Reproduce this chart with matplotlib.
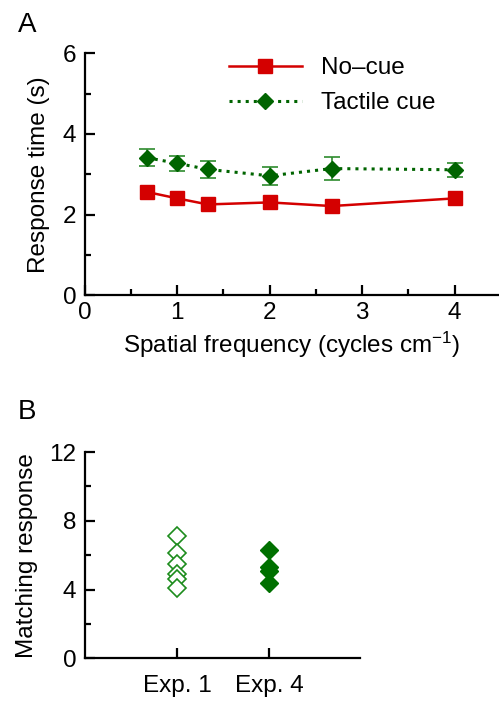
import matplotlib.pyplot as plt
from matplotlib.ticker import MultipleLocator

plt.rcParams['font.family'] = ['Liberation Sans', 'DejaVu Sans']
plt.rcParams['mathtext.default'] = 'regular'

# panel A data
freq = [0.67, 1.0, 1.33, 2.0, 2.67, 4.0]
nocue = [2.56, 2.40, 2.25, 2.30, 2.21, 2.40]
tactile = [3.41, 3.27, 3.12, 2.96, 3.14, 3.11]
tactile_err = [0.21, 0.19, 0.21, 0.22, 0.29, 0.17]

# panel B data
exp_labels = ['Exp. 1', 'Exp. 4']
exp1 = [7.1, 6.1, 5.5, 4.9, 4.6, 4.1]
exp4 = [6.3, 5.3, 5.1, 4.4]

red = '#d40000'
dgreen = '#006400'
fs = 17.5


def style_axes(ax):
    for s in ['top', 'right']:
        ax.spines[s].set_visible(False)
    for s in ['left', 'bottom']:
        ax.spines[s].set_linewidth(1.6)
    ax.tick_params(which='both', direction='in', width=1.6, labelsize=fs)
    ax.tick_params(which='major', length=7.5)
    ax.tick_params(which='minor', length=4.5)


fig = plt.figure(figsize=(4.99, 7.01), dpi=100)

# ---- panel A
ax1 = fig.add_axes([0.170, 0.579, 0.828, 0.345])
ax1.plot(freq, nocue, '-s', color=red, lw=1.8, ms=9.5, label='No\u2013cue')
ax1.errorbar(freq, tactile, yerr=tactile_err, fmt='none',
             ecolor='#2e8b2e', elinewidth=1.2, capsize=6, capthick=1.2)
ax1.plot(freq, tactile, 'D', ls=':', color=dgreen, lw=2.2, ms=8.5,
         label='Tactile cue')
ax1.set_xlim(0, 4.47)
ax1.set_ylim(0, 6)
ax1.xaxis.set_major_locator(MultipleLocator(1))
ax1.xaxis.set_minor_locator(MultipleLocator(0.5))
ax1.yaxis.set_major_locator(MultipleLocator(2))
ax1.yaxis.set_minor_locator(MultipleLocator(1))
style_axes(ax1)
ax1.tick_params(axis='y', pad=6)
ax1.tick_params(axis='x', pad=5)
ax1.set_xlabel('Spatial frequency (cycles cm$^{-1}$)', fontsize=fs, labelpad=4)
ax1.set_ylabel('Response time (s)', fontsize=fs, labelpad=9)
ax1.legend(loc='upper left', bbox_to_anchor=(0.295, 1.075), frameon=False,
           fontsize=fs, handlelength=3.0, handletextpad=0.8, labelspacing=0.55)

# ---- panel B
ax2 = fig.add_axes([0.170, 0.061, 0.551, 0.294])
ax2.plot([1] * len(exp1), exp1, 'D', ls='none', ms=9, mfc='white',
         mec='#1c8c1c', mew=1.2)
ax2.plot([2] * len(exp4), exp4, 'D', ls='none', ms=9, color='#007000')
ax2.set_xlim(0, 2.98)
ax2.set_ylim(0, 12)
ax2.set_xticks([1, 2])
ax2.set_xticklabels(exp_labels)
ax2.yaxis.set_major_locator(MultipleLocator(4))
ax2.yaxis.set_minor_locator(MultipleLocator(2))
style_axes(ax2)
ax2.tick_params(axis='y', pad=6)
ax2.tick_params(axis='x', pad=12)
ax2.set_ylabel('Matching response', fontsize=fs, labelpad=8)

fig.text(0.035, 0.964, 'A', fontsize=20, va='center', ha='left')
fig.text(0.035, 0.412, 'B', fontsize=20, va='center', ha='left')

fig.savefig('out.png', dpi=100)
